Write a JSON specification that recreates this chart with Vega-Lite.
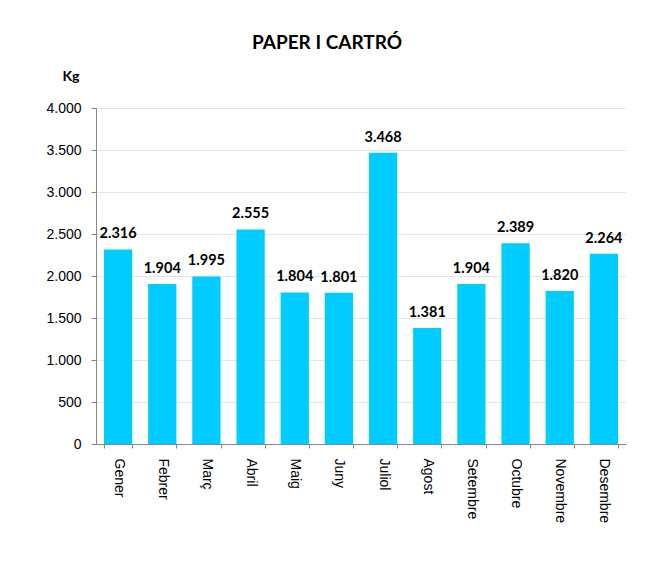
{
  "$schema": "https://vega.github.io/schema/vega-lite/v6.json",
  "width": 530,
  "height": 336,
  "autosize": "none",
  "padding": {"left": 96, "top": 108, "right": 26, "bottom": 130},
  "background": "white",
  "title": {
    "text": "PAPER I CARTRÓ",
    "font": "Lato",
    "fontSize": 19,
    "fontWeight": "bold",
    "color": "#000000",
    "anchor": "middle",
    "dx": -34,
    "offset": 16
  },
  "data": {
    "values": [
      {"mes": "Gener", "kg": 2316},
      {"mes": "Febrer", "kg": 1904},
      {"mes": "Març", "kg": 1995},
      {"mes": "Abril", "kg": 2555},
      {"mes": "Maig", "kg": 1804},
      {"mes": "Juny", "kg": 1801},
      {"mes": "Juliol", "kg": 3468},
      {"mes": "Agost", "kg": 1381},
      {"mes": "Setembre", "kg": 1904},
      {"mes": "Octubre", "kg": 2389},
      {"mes": "Novembre", "kg": 1820},
      {"mes": "Desembre", "kg": 2264}
    ]
  },
  "encoding": {
    "x": {
      "field": "mes",
      "type": "nominal",
      "sort": null,
      "scale": {"paddingInner": 0.36, "paddingOuter": 0.18},
      "axis": {
        "title": null,
        "labelAngle": 90,
        "labelFont": "Liberation Sans",
        "labelFontSize": 14,
        "labelColor": "#000000",
        "labelPadding": 10,
        "tickBand": "extent",
        "tickSize": 4,
        "tickColor": "#868686",
        "domainColor": "#868686",
        "grid": false
      }
    },
    "y": {
      "field": "kg",
      "type": "quantitative",
      "scale": {"domain": [0, 4000]},
      "axis": {
        "values": [0, 500, 1000, 1500, 2000, 2500, 3000, 3500, 4000],
        "format": ",.0f",
        "title": "Kg",
        "titleAngle": 0,
        "titleFont": "Lato",
        "titleFontSize": 14,
        "titleFontWeight": "bold",
        "titleAlign": "right",
        "titleBaseline": "alphabetic",
        "titleX": -17,
        "titleY": -28,
        "labelFont": "Liberation Sans",
        "labelFontSize": 14,
        "labelColor": "#000000",
        "labelPadding": 10,
        "tickSize": 5,
        "tickColor": "#868686",
        "domainColor": "#868686",
        "gridColor": "#e4e4e4"
      }
    }
  },
  "layer": [
    {"mark": {"type": "bar", "color": "#00CCFF"}},
    {
      "mark": {
        "type": "text",
        "font": "Lato",
        "fontSize": 14.5,
        "fontWeight": "bold",
        "color": "#000000",
        "baseline": "alphabetic",
        "dy": -11
      },
      "encoding": {
        "text": {"field": "kg", "type": "quantitative", "format": ",.0f"}
      }
    }
  ],
  "config": {
    "view": {"stroke": null},
    "locale": {
      "number": {"decimal": ",", "thousands": ".", "grouping": [3], "currency": ["", " €"]}
    }
  }
}
